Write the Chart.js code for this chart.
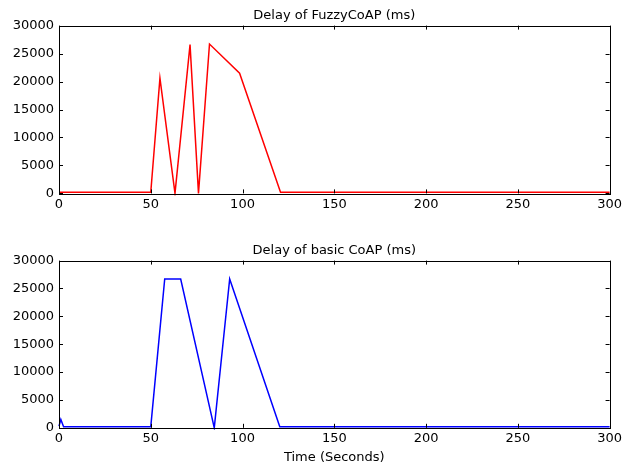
<!DOCTYPE html>
<html lang="en">
<head>
    <meta charset="UTF-8">
    <title>CoAP delay</title>
    <script src="https://cdn.jsdelivr.net/npm/chart.js"></script>
    <style>
        body { margin: 0; background: #fff; }
        .panel { position: absolute; left: 0; width: 625px; }
        #fuzzyWrap { top: 0; height: 215px; }
        #basicWrap { top: 235px; height: 228px; }
    </style>
</head>
<body>
    <div class="panel" id="fuzzyWrap"><canvas id="fuzzy"></canvas></div>
    <div class="panel" id="basicWrap"><canvas id="basic"></canvas></div>
    <script>
        // time (s) / delay (ms) samples for each protocol
        const fuzzyTime  = [0, 50, 55, 63.2, 71.4, 76, 82, 98.4, 120.7, 300];
        const fuzzyDelay = [200, 200, 20600, 0, 26600, 0, 26700, 21500, 200, 200];

        const basicTime  = [0, 1, 2.5, 50, 57.6, 66.3, 84.6, 93, 120.3, 300];
        const basicDelay = [300, 1500, 200, 200, 26700, 26700, 0, 26700, 200, 200];

        const timeTicks  = [0, 50, 100, 150, 200, 250, 300];
        const delayTicks = [0, 5000, 10000, 15000, 20000, 25000, 30000];

        const FONT = 'DejaVu Sans';
        Chart.defaults.font.family = FONT;
        Chart.defaults.color = '#000';

        // box around the plot area with inward ticks on all four sides
        const frame = {
            id: 'frame',
            afterDraw(chart) {
                const { ctx, chartArea: a, scales: { x, y } } = chart;
                const len = 4;
                ctx.save();
                ctx.strokeStyle = '#000';
                ctx.lineWidth = 1;
                ctx.strokeRect(Math.round(a.left) + 0.5, Math.round(a.top) + 0.5,
                    Math.round(a.right - a.left), Math.round(a.bottom - a.top));
                ctx.beginPath();
                x.ticks.forEach(t => {
                    const px = Math.round(x.getPixelForValue(t.value)) + 0.5;
                    ctx.moveTo(px, a.top); ctx.lineTo(px, a.top + len);
                    ctx.moveTo(px, a.bottom); ctx.lineTo(px, a.bottom - len);
                });
                y.ticks.forEach(t => {
                    const py = Math.round(y.getPixelForValue(t.value)) + 0.5;
                    ctx.moveTo(a.left, py); ctx.lineTo(a.left + len, py);
                    ctx.moveTo(a.right, py); ctx.lineTo(a.right - len, py);
                });
                ctx.stroke();
                ctx.restore();
            }
        };

        function makeChart(id, title, times, delays, color, xTitle, padBottom) {
            return new Chart(document.getElementById(id), {
                type: 'line',
                data: {
                    datasets: [{
                        data: times.map((t, i) => ({ x: t, y: delays[i] })),
                        borderColor: color,
                        borderWidth: 1.5,
                        pointRadius: 0,
                        tension: 0,
                        fill: false,
                        clip: 2
                    }]
                },
                options: {
                    responsive: true,
                    maintainAspectRatio: false,
                    animation: false,
                    layout: { padding: { left: 0, right: 13, top: 0, bottom: padBottom } },
                    plugins: {
                        legend: { display: false },
                        tooltip: { enabled: false },
                        title: {
                            display: true,
                            text: title,
                            fullSize: false,
                            font: { size: 13, weight: 'normal' },
                            padding: { top: 8, bottom: 2 }
                        }
                    },
                    scales: {
                        x: {
                            type: 'linear',
                            min: timeTicks[0],
                            max: timeTicks[timeTicks.length - 1],
                            afterBuildTicks: s => { s.ticks = timeTicks.map(v => ({ value: v })); },
                            grid: { display: false, drawTicks: false },
                            border: { display: false },
                            ticks: { font: { size: 13 }, padding: 3, maxRotation: 0, callback: v => String(v) },
                            title: {
                                display: !!xTitle,
                                text: xTitle,
                                font: { size: 13 },
                                padding: { top: 0, bottom: 0 }
                            }
                        },
                        y: {
                            min: delayTicks[0],
                            max: delayTicks[delayTicks.length - 1],
                            afterBuildTicks: s => { s.ticks = delayTicks.map(v => ({ value: v })); },
                            afterFit: s => { s.width = 59; },
                            grid: { display: false, drawTicks: false },
                            border: { display: false },
                            ticks: { font: { size: 13 }, padding: 5, callback: v => String(v) }
                        }
                    }
                },
                plugins: [frame]
            });
        }

        makeChart('fuzzy', 'Delay of FuzzyCoAP (ms)', fuzzyTime, fuzzyDelay, '#ff0000', '', 0);
        makeChart('basic', 'Delay of basic CoAP (ms)', basicTime, basicDelay, '#0000ff', 'Time (Seconds)', -2);
    </script>
</body>
</html>
